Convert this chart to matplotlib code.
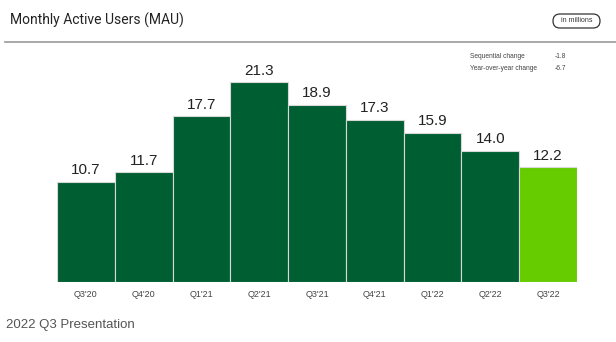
import matplotlib
matplotlib.use('Agg')
import matplotlib.pyplot as plt
from matplotlib.patches    import FancyBboxPatch
from matplotlib.transforms import IdentityTransform

quarters = ["Q3'20", "Q4'20", "Q1'21", "Q2'21", "Q3'21", "Q4'21", "Q1'22", "Q2'22", "Q3'22"]
mau      = [10.7, 11.7, 17.7, 21.3, 18.9, 17.3, 15.9, 14.0, 12.2]
side_labels = ['Sequential change', 'Year-over-year change']
side_values = ['-1.8', '-6.7']

DARK  = '#005f32'
LIGHT = '#66cc00'

plt.rcParams['font.family'] = ['Liberation Sans', 'DejaVu Sans']

W, H = 616, 342
fig = plt.figure(figsize=(W / 100, H / 100), dpi=100)
fig.patch.set_facecolor('white')


def fx(px):
    return px / W


def fy(py):
    return 1 - py / H


# header
fig.text(fx(10), fy(20), 'Monthly Active Users (MAU)', fontsize=10,
         color='#222222', va='center', ha='left', family=['Roboto', 'DejaVu Sans'])
fig.add_artist(plt.Line2D([fx(5), 1], [fy(42), fy(42)], color='#9a9a9a', lw=1.2))

# rounded "in millions" tag, drawn in pixel units so the ends stay round
pill = FancyBboxPatch((553, H - 28), 47, 14,
                      boxstyle='round,pad=0,rounding_size=7',
                      transform=IdentityTransform(),
                      fc='white', ec='#333333', lw=0.9)
fig.add_artist(pill)
fig.text(fx(576.5), fy(21), 'in millions', fontsize=5, color='#333333',
         ha='center', va='center')

for i, (lab, val) in enumerate(zip(side_labels, side_values)):
    y = fy(57 + i * 11)
    fig.text(fx(470), y, lab, fontsize=4.8, color='#444444', va='center')
    fig.text(fx(555), y, val, fontsize=4.8, color='#444444', va='center')

# bars
ax = fig.add_axes([fx(57), fy(282), fx(520), 200 / H])
colors = [DARK] * (len(mau) - 1) + [LIGHT]
x = range(len(mau))
ax.bar(x, mau, width=1.0, color=colors, edgecolor='#d8d8d8', linewidth=0.8)
for xi, v in zip(x, mau):
    ax.text(xi, v + 0.45, f'{v:.1f}', ha='center', va='bottom',
            fontsize=11, color='#222222', clip_on=False)

ax.set_xlim(-0.5, len(mau) - 0.5)
ax.set_ylim(0, 21.3)
ax.set_xticks(list(x))
ax.set_xticklabels(quarters, fontsize=6.5, color='#444444')
ax.tick_params(axis='x', length=0, pad=6)
ax.set_yticks([])
for s in ax.spines.values():
    s.set_visible(False)
ax.patch.set_alpha(0)

fig.text(fx(6), fy(325), '2022 Q3 Presentation', fontsize=9.5,
         color='#555555', va='center', ha='left')

fig.savefig('out.png', dpi=100, facecolor='white')
